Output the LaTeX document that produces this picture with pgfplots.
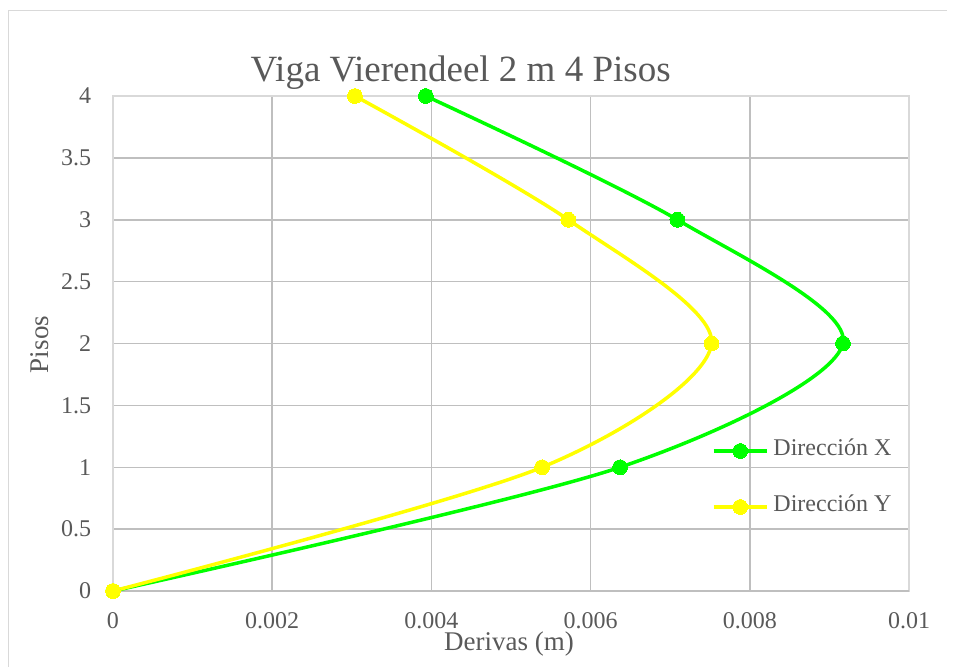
\documentclass[border=0pt]{standalone}
\usepackage{fontspec}
\setmainfont{Liberation Serif}
\usepackage{pgfplots}
\pgfplotsset{compat=1.18}
\definecolor{txt}{HTML}{595959}
\definecolor{grid}{HTML}{D9D9D9}
\definecolor{axln}{HTML}{BFBFBF}
\definecolor{cx}{HTML}{00FF00}
\definecolor{cy}{HTML}{FFFF00}
\begin{document}
\begin{tikzpicture}
\path[use as bounding box] (0pt,0pt) rectangle (477pt,333pt);
\draw[grid, line width=0.6pt] (4.375pt,-10pt) -- (4.375pt,327.75pt) -- (473.5pt,327.75pt);
\begin{axis}[
  at={(56.5pt,37.5pt)}, anchor=south west,
  scale only axis, width=398pt, height=247.5pt,
  xmin=0, xmax=0.01, ymin=0, ymax=4,
  xtick={0,0.002,0.004,0.006,0.008,0.01},
  xticklabels={0,0.002,0.004,0.006,0.008,0.01},
  ytick={0,0.5,1,1.5,2,2.5,3,3.5,4},
  yticklabels={0,0.5,1,1.5,2,2.5,3,3.5,4},
  scaled x ticks=false, scaled y ticks=false,
  major tick length=0pt,
  grid=major,
  major grid style={grid, line width=0.75pt},
  axis line style={grid, line width=0.75pt},
  tick label style={font=\fontsize{12}{14}\selectfont, text=txt},
  xticklabel style={anchor=base, inner sep=0pt, yshift=-18.5pt},
  yticklabel style={anchor=east, inner sep=0pt, xshift=-10.7pt},
  legend style={at={(rel axis cs:0.7525,0.2263)}, anchor=west, draw=none, fill=none,
    inner sep=0pt, outer sep=0pt, row sep=18pt, column sep=2.5pt,
    font=\fontsize{12}{14}\selectfont, text=txt,
    nodes={inner sep=0pt, text height=0.75em, text depth=0.25em}},
  legend cell align=left,
  legend image code/.code={\draw[mark repeat=2,mark phase=2,#1] plot coordinates {(0pt,0pt) (13.25pt,0pt) (26.5pt,0pt)};},
]
\draw[axln, line width=0.75pt] (axis cs:0,0) -- (axis cs:0.01,0);
\addplot[cx, line width=1.75pt, smooth, tension=0.5, mark=*, mark size=3.7pt,
  mark options={fill=cx, draw=cx, line width=0pt}] coordinates {
  (0,0) (0.00637,1) (0.00917,2) (0.00709,3) (0.00393,4)};
\addlegendentry{Dirección X}
\addplot[cy, line width=1.75pt, smooth, tension=0.5, mark=*, mark size=3.7pt,
  mark options={fill=cy, draw=cy, line width=0pt}] coordinates {
  (0,0) (0.00539,1) (0.00752,2) (0.00572,3) (0.00304,4)};
\addlegendentry{Dirección Y}
\end{axis}
\node[anchor=base, text=txt, font=\fontsize{18.5}{22}\selectfont, inner sep=0pt] at (230.35pt,292.15pt) {Viga Vierendeel 2 m 4 Pisos};
\node[anchor=base, text=txt, font=\fontsize{13.5}{16}\selectfont, inner sep=0pt] at (254.5pt,8pt) {Derivas (m)};
\node[anchor=base, rotate=90, text=txt, font=\fontsize{13.5}{16}\selectfont, inner sep=0pt] at (24pt,160.75pt) {Pisos};
\end{tikzpicture}
\end{document}
